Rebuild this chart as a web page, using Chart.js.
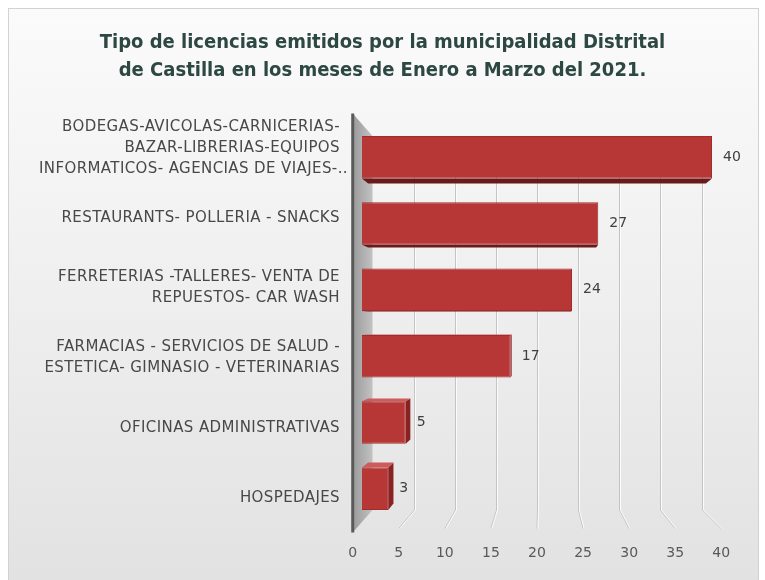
<!DOCTYPE html>
<html>
<head>
<meta charset="utf-8">
<script src="https://cdn.jsdelivr.net/npm/chart.js@4.4.0/dist/chart.umd.min.js"></script>
<style>
  html, body { margin: 0; padding: 0; background: #fff; }
  #wrap { width: 765px; height: 580px; }
</style>
</head>
<body>
<div id="wrap"><canvas id="grafico"></canvas></div>
<script>
// Datos
var titulo = [
  "Tipo de licencias emitidos por la municipalidad Distrital",
  "de Castilla en los meses de Enero a Marzo del 2021."
];
var categorias = [
  ["BODEGAS-AVICOLAS-CARNICERIAS-", "BAZAR-LIBRERIAS-EQUIPOS", "INFORMATICOS- AGENCIAS DE VIAJES-.."],
  ["RESTAURANTS- POLLERIA - SNACKS"],
  ["FERRETERIAS -TALLERES- VENTA DE", "REPUESTOS- CAR WASH"],
  ["FARMACIAS - SERVICIOS DE SALUD -", "ESTETICA- GIMNASIO - VETERINARIAS"],
  ["OFICINAS ADMINISTRATIVAS"],
  ["HOSPEDAJES"]
];
var licencias = [40, 27, 24, 17, 5, 3];
var marcasX = [0, 5, 10, 15, 20, 25, 30, 35, 40];

var FUENTE = '"DejaVu Sans", sans-serif';
var K_FRENTE = 1.053, K_FONDO = 0.94, K_BARRA = 0.965;

// perspectiva alrededor del centro del area
function persp(a, x, y, k) {
  var vx = (a.left + a.right) / 2, vy = (a.top + a.bottom) / 2;
  return [vx + (x - vx) * k, vy + (y - vy) * k];
}

function poly(ctx, pts, color) {
  ctx.beginPath();
  ctx.moveTo(pts[0][0], pts[0][1]);
  for (var i = 1; i < pts.length; i++) ctx.lineTo(pts[i][0], pts[i][1]);
  ctx.closePath();
  ctx.fillStyle = color;
  ctx.fill();
}

var efecto3d = {
  id: 'efecto3d',
  beforeDraw: function(chart) {
    var ctx = chart.ctx;
    ctx.save();
    ctx.fillStyle = '#ffffff';
    ctx.fillRect(0, 0, chart.width, chart.height);
    var g = ctx.createLinearGradient(0, 8, 0, chart.height);
    g.addColorStop(0, '#fbfbfb');
    g.addColorStop(0.5, '#efefef');
    g.addColorStop(1, '#e2e2e2');
    ctx.fillStyle = g;
    ctx.fillRect(8, 8, 750, chart.height);
    ctx.strokeStyle = '#d2d2d2';
    ctx.lineWidth = 1;
    ctx.strokeRect(8.5, 8.5, 750, chart.height);
    ctx.restore();
  },
  beforeDatasetsDraw: function(chart) {
    var ctx = chart.ctx, a = chart.chartArea, xs = chart.scales.x;
    ctx.save();

    // lineas de division (pared del fondo + piso)
    marcasX.forEach(function(v) {
      if (v === 0) return;
      var px = xs.getPixelForValue(v);
      var bt = persp(a, px, a.top, K_FONDO);
      var bb = persp(a, px, a.bottom, K_FONDO);
      var fb = persp(a, px, a.bottom, K_FRENTE);
      [['#c4c4c4', 0], ['#fbfbfb', 1]].forEach(function(s) {
        ctx.beginPath();
        ctx.strokeStyle = s[0];
        ctx.lineWidth = 1;
        ctx.moveTo(Math.round(bt[0]) + 0.5 + s[1], bt[1]);
        ctx.lineTo(Math.round(bb[0]) + 0.5 + s[1], bb[1]);
        ctx.lineTo(fb[0] + s[1], fb[1] - 4);
        ctx.stroke();
      });
    });

    // pared izquierda
    var x0 = xs.getPixelForValue(0);
    var ft = persp(a, x0, a.top, K_FRENTE), fb0 = persp(a, x0, a.bottom, K_FRENTE);
    var bt0 = persp(a, x0, a.top, K_FONDO), bb0 = persp(a, x0, a.bottom, K_FONDO);
    var gw = ctx.createLinearGradient(ft[0], 0, bt0[0], 0);
    gw.addColorStop(0, '#9a9a9a');
    gw.addColorStop(1, '#c2c2c2');
    poly(ctx, [ft, bt0, bb0, fb0], gw);
    ctx.beginPath();
    ctx.strokeStyle = '#5a5a5a';
    ctx.lineWidth = 3;
    ctx.moveTo(ft[0], ft[1]);
    ctx.lineTo(fb0[0], fb0[1]);
    ctx.stroke();

    // caras laterales de las barras
    var vx = (a.left + a.right) / 2, vy = (a.top + a.bottom) / 2;
    chart.getDatasetMeta(0).data.forEach(function(el) {
      var p = el.getProps(['x', 'y', 'base', 'height'], true);
      var l = Math.min(p.base, p.x), r = Math.max(p.base, p.x);
      var t = p.y - p.height / 2, b = p.y + p.height / 2;
      var q = function(x, y) { return persp(a, x, y, K_BARRA); };
      if (r < vx) poly(ctx, [[r, t], q(r, t), q(r, b), [r, b]], '#8a2222');
      if (t > vy) poly(ctx, [[l, t], q(l, t), q(r, t), [r, t]], '#cf5a5a');
      if (b < vy) poly(ctx, [[l, b], q(l, b), q(r, b), [r, b]], '#6a1a1a');
    });
    ctx.restore();
  },
  afterDraw: function(chart) {
    var ctx = chart.ctx, a = chart.chartArea, xs = chart.scales.x, ys = chart.scales.y;
    ctx.save();

    // valores
    ctx.font = '14px ' + FUENTE;
    ctx.fillStyle = '#404040';
    ctx.textAlign = 'left';
    ctx.textBaseline = 'middle';
    chart.getDatasetMeta(0).data.forEach(function(el, i) {
      var p = el.getProps(['x', 'y'], true);
      ctx.fillText(String(licencias[i]), p.x + 11, p.y);
    });

    // etiquetas de categorias
    ctx.font = '15px ' + FUENTE;
    ctx.fillStyle = '#484848';
    ctx.textAlign = 'right';
    ctx.letterSpacing = '0.4px';
    categorias.forEach(function(lineas, i) {
      var ty = ys.getPixelForTick(i);
      var cy = persp(a, a.left, ty, K_FRENTE)[1];
      var lh = 21;
      var y0 = cy - (lineas.length - 1) * lh / 2;
      lineas.forEach(function(txt, j) {
        var xr = a.left - 22;
        if (txt.slice(-2) === '..') xr += 8;
        ctx.fillText(txt, xr, y0 + j * lh);
      });
    });
    ctx.letterSpacing = '0px';

    // eje x
    ctx.font = '14px ' + FUENTE;
    ctx.fillStyle = '#595959';
    ctx.textAlign = 'center';
    marcasX.forEach(function(v) {
      var pt = persp(a, xs.getPixelForValue(v), a.bottom, K_FRENTE);
      ctx.fillText(String(v), pt[0], 553);
    });
    ctx.restore();
  }
};

var ctx = document.getElementById('grafico');

var config = {
  type: 'bar',
  data: {
    labels: categorias,
    datasets: [{
      data: licencias,
      backgroundColor: '#b73636',
      borderColor: '#a02c2c',
      borderWidth: 1,
      barPercentage: 0.64,
      categoryPercentage: 1
    }]
  },
  options: {
    indexAxis: 'y',
    responsive: true,
    maintainAspectRatio: false,
    animation: false,
    layout: { padding: { left: 10, right: 10, top: 0, bottom: 0 } },
    scales: {
      x: {
        min: marcasX[0],
        max: marcasX[marcasX.length - 1],
        ticks: { display: false, stepSize: 5 },
        grid: { display: false },
        border: { display: false },
        afterFit: function(s) { s.height = 58; }
      },
      y: {
        ticks: { display: false },
        grid: { display: false },
        border: { display: false },
        afterFit: function(s) { s.width = 352; }
      },
      derecha: {
        type: 'linear',
        position: 'right',
        ticks: { display: false },
        grid: { display: false },
        border: { display: false },
        afterFit: function(s) { s.width = 43; }
      }
    },
    plugins: {
      legend: { display: false },
      tooltip: { enabled: false },
      title: {
        display: true,
        text: titulo,
        color: '#2d4842',
        font: { family: '"Liberation Sans Narrow", "DejaVu Sans Condensed", "Liberation Sans", sans-serif', size: 20, weight: 'bold', lineHeight: 1.4 },
        padding: { top: 29, bottom: 39 }
      }
    }
  },
  plugins: [efecto3d]
};

new Chart(ctx, config);
</script>
</body>
</html>
